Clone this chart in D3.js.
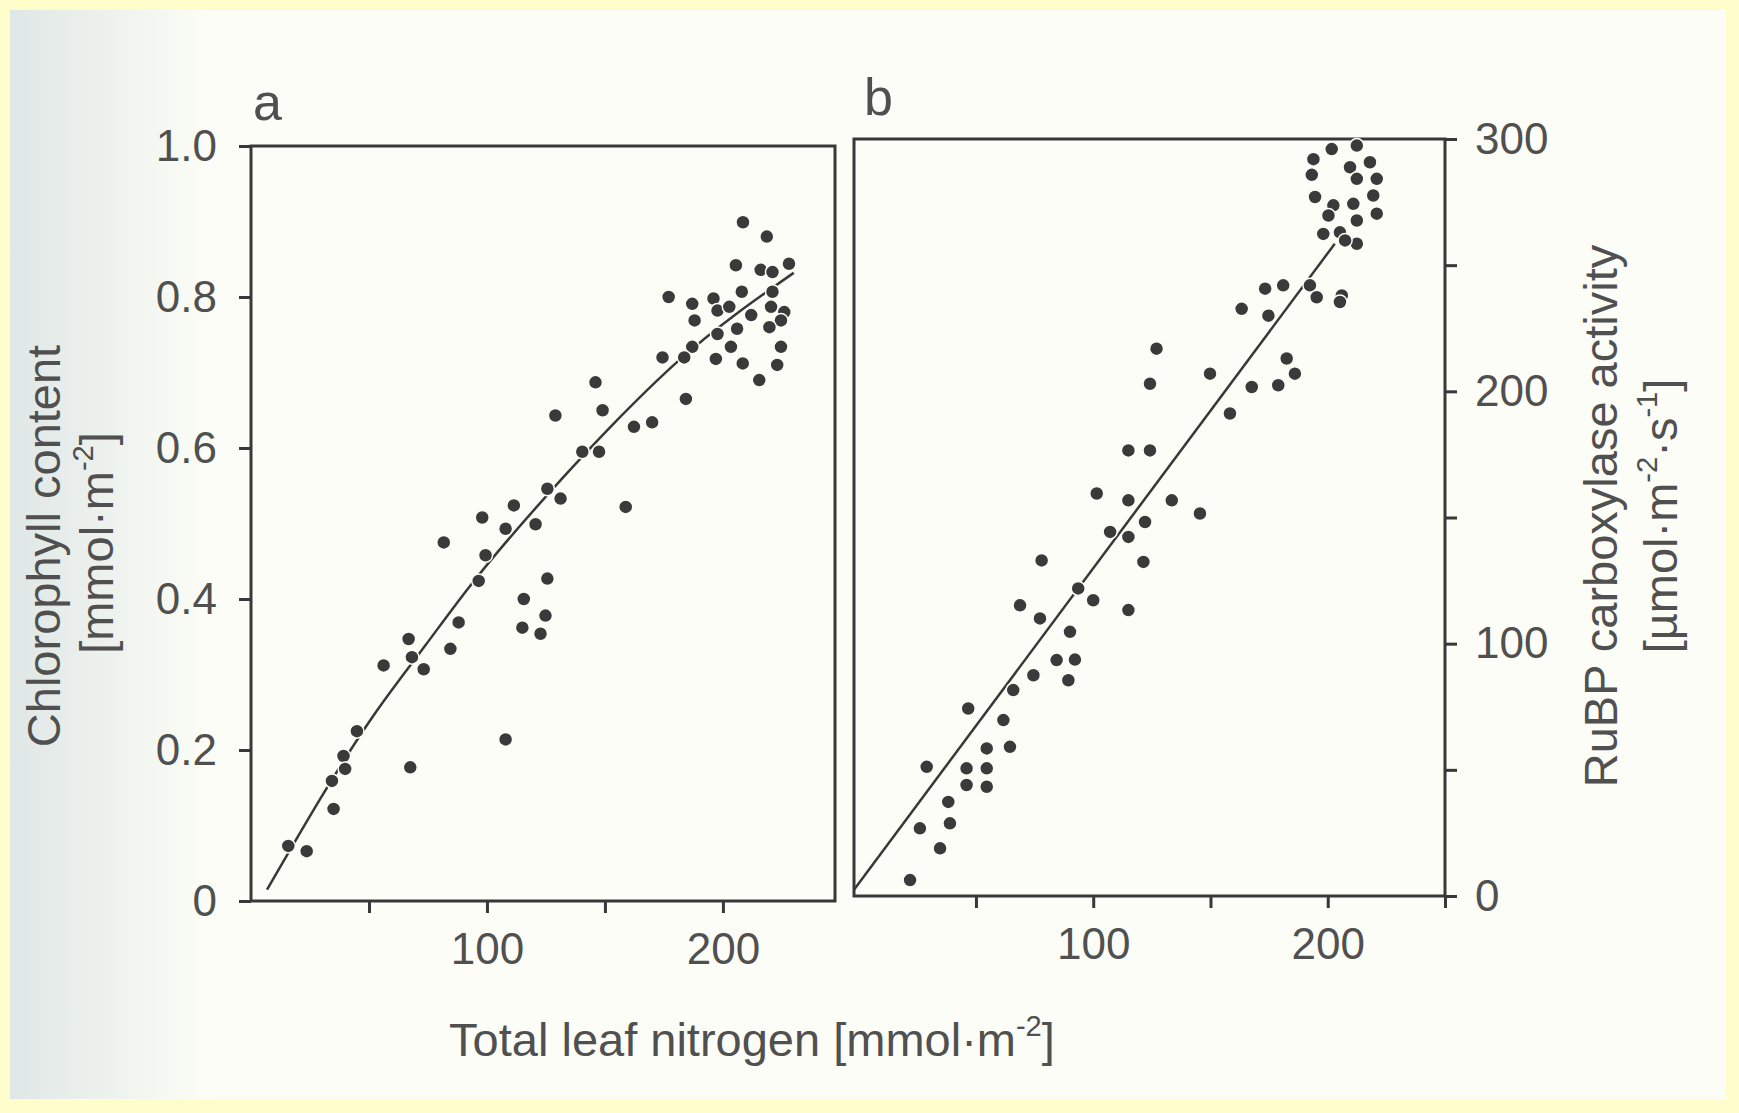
<!DOCTYPE html>
<html>
<head>
<meta charset="utf-8">
<script src="https://cdn.jsdelivr.net/npm/d3@7"></script>
<style>
body { margin: 0; background: #fefecb; }
svg { display: block; }
text { font-family: "Liberation Sans", Arial, sans-serif; fill: #505050; }
</style>
</head>
<body>
<svg id="chart" width="1739" height="1113"></svg>
<script>
// panel a: total leaf nitrogen vs chlorophyll content
var nitrogenA = [205.5,216,221,228,177,187,188,196,197.7,202.7,208,212,206,221,220.4,226,224.6,219.7,224.6,223,
                 208.4,215.4,203.4,197,197.7,187,183.6,174.4,184.3,146,149,129,162.3,170,140.4,147.5,158.8,125.6,131.2,111.4,
                 98,107.9,120.6,81.7,99.4,208.5,218.6,96.5,125.6,115.6,124.8,115,122.7,88,84.5,66.8,
                 68.2,73.2,56.2,44.9,39.2,39.9,34.3,35,15.8,23.6,67.5,107.9];
var chlorophyll = [0.842,0.836,0.833,0.844,0.800,0.791,0.769,0.798,0.782,0.787,0.807,0.776,0.758,0.807,0.787,0.780,0.769,0.760,0.734,0.710,
                   0.712,0.690,0.734,0.718,0.751,0.734,0.720,0.720,0.665,0.687,0.650,0.643,0.628,0.634,0.595,0.595,0.522,0.546,0.533,0.524,
                   0.508,0.493,0.499,0.475,0.458,0.899,0.880,0.424,0.427,0.400,0.378,0.362,0.354,0.369,0.334,0.347,
                   0.323,0.307,0.312,0.225,0.192,0.175,0.159,0.122,0.073,0.066,0.177,0.214];

// panel b: total leaf nitrogen vs RuBP carboxylase activity
var nitrogenB = [201.7,212.4,193.9,193.2,209.5,218,212.4,220.9,219.4,194.6,202.4,210.9,200.3,212.4,220.9,198.1,205.2,212.4,207.4,173.3,
                 181,192.4,195.3,206,205.2,163.3,174.7,127,124.2,149.8,182.5,186,167.6,178.9,158.3,115,124.2,101.5,115,133.5,
                 145.5,122.1,115,107.2,78,121.4,93.6,100,115,68.8,77.3,90.1,84.4,92.2,74.5,89.4,65.9,46.7,61.7,54.6,
                 64.5,29,46,54.6,46,54.6,38.2,38.9,26.1,34.7,21.9];
var rubpActivity = [296,297.4,292,285.8,288.8,290.8,284.2,284.2,277.6,277,273.7,274.3,269.7,267.7,270.4,262.4,263,258.5,259.8,240.7,
                    242,242,237.3,238,235.4,232.7,230,216.9,203,207,213,207,201.7,202.4,191.2,176.6,176.6,159.5,156.8,156.8,
                    151.6,148.2,142.3,144.3,133,132.4,121.9,117.2,113.3,115.2,110,104.7,93.5,93.7,87.5,85.5,81.6,74.3,69.7,58.5,
                    59.1,51.2,50.6,50.6,44,43.3,37.3,28.8,26.8,18.9,6.3];

// fitted curves
var fitAx = [6.8, 52, 74, 92, 132, 153, 181, 230];
var fitAy = [0.015, 0.246, 0.339, 0.414, 0.560, 0.630, 0.715, 0.832];
var fitBx = [-2, 203];
var fitBy = [2.5, 258.5];

var xTicksA = [50, 100, 150, 200];
var xTicksB = [50, 100, 150, 200, 250];
var xTickLabels = [100, 200];
var yTicksA = [0, 0.2, 0.4, 0.6, 0.8, 1.0];
var yTicksB = [0, 100, 200, 300];
var yMinorB = [50, 150, 250];

var svg = d3.select("#chart");
var ink = "#383838";
var paper = "#fcfdf6";

// paper background
var defs = svg.append("defs");
var grad = defs.append("linearGradient").attr("id", "leftShade");
grad.append("stop").attr("offset", "0").attr("stop-color", "#dfe7e6");
grad.append("stop").attr("offset", "1").attr("stop-color", paper);
svg.append("rect").attr("x", 10).attr("y", 10).attr("width", 1716).attr("height", 1089).style("fill", paper);
svg.append("rect").attr("x", 10).attr("y", 10).attr("width", 200).attr("height", 1089).style("fill", "url(#leftShade)");

var xA = d3.scaleLinear().domain([0, 247.5]).range([251, 835]);
var yA = d3.scaleLinear().domain([0, 1]).range([901, 146]);
var xB = d3.scaleLinear().domain([-2, 250]).range([854, 1445]);
var yB = d3.scaleLinear().domain([0, 300]).range([896, 139]);

function styleAxis(g) {
  g.select(".domain").remove();
  g.selectAll(".tick line").style("stroke", ink).style("stroke-width", 3);
  g.selectAll(".tick text").style("font-family", "'Liberation Sans', Arial, sans-serif")
    .style("font-size", "44px").style("fill", "#505050");
}

// panel a
svg.append("g")
    .attr("transform", "translate(" + xA.range()[0] + ",0)")
    .call(d3.axisLeft(yA).tickValues(yTicksA).tickSize(12).tickPadding(22)
      .tickFormat(function(d) { return d === 0 ? "0" : d.toFixed(1); }))
    .call(styleAxis);
svg.append("g")
    .attr("transform", "translate(0," + yA.range()[0] + ")")
    .call(d3.axisBottom(xA).tickValues(xTicksA).tickSize(12).tickPadding(20)
      .tickFormat(function(d) { return xTickLabels.indexOf(d) >= 0 ? d : ""; }))
    .call(styleAxis);
svg.append("rect")
    .attr("x", xA.range()[0]).attr("y", yA.range()[1])
    .attr("width", xA.range()[1] - xA.range()[0])
    .attr("height", yA.range()[0] - yA.range()[1])
    .style("fill", "none").style("stroke", ink).style("stroke-width", 3);

var lineA = d3.line()
    .x(function(i) { return xA(fitAx[i]); })
    .y(function(i) { return yA(fitAy[i]); })
    .curve(d3.curveMonotoneX);
svg.append("path")
    .attr("d", lineA(d3.range(fitAx.length)))
    .style("fill", "none").style("stroke", ink).style("stroke-width", 2.5);

svg.selectAll(".dotA")
    .data(d3.range(nitrogenA.length))
    .enter()
    .append("circle")
    .attr("class", "dotA")
    .attr("cx", function(i) { return xA(nitrogenA[i]); })
    .attr("cy", function(i) { return yA(chlorophyll[i]); })
    .attr("r", 7)
    .style("fill", "#3a3a3a")
    .style("stroke", paper).style("stroke-width", 1.5);

// panel b
svg.append("g")
    .attr("transform", "translate(" + xB.range()[1] + ",0)")
    .call(d3.axisRight(yB).tickValues(yTicksB).tickSize(12).tickPadding(18))
    .call(styleAxis);
svg.append("g")
    .attr("transform", "translate(" + xB.range()[1] + ",0)")
    .call(d3.axisRight(yB).tickValues(yMinorB).tickSize(12).tickFormat(""))
    .call(styleAxis);
svg.append("g")
    .attr("transform", "translate(0," + yB.range()[0] + ")")
    .call(d3.axisBottom(xB).tickValues(xTicksB).tickSize(12).tickPadding(20)
      .tickFormat(function(d) { return xTickLabels.indexOf(d) >= 0 ? d : ""; }))
    .call(styleAxis);
svg.append("rect")
    .attr("x", xB.range()[0]).attr("y", yB.range()[1])
    .attr("width", xB.range()[1] - xB.range()[0])
    .attr("height", yB.range()[0] - yB.range()[1])
    .style("fill", "none").style("stroke", ink).style("stroke-width", 3);

svg.append("line")
    .attr("x1", xB(fitBx[0])).attr("y1", yB(fitBy[0]))
    .attr("x2", xB(fitBx[1])).attr("y2", yB(fitBy[1]))
    .style("stroke", ink).style("stroke-width", 2.5);

svg.selectAll(".dotB")
    .data(d3.range(nitrogenB.length))
    .enter()
    .append("circle")
    .attr("class", "dotB")
    .attr("cx", function(i) { return xB(nitrogenB[i]); })
    .attr("cy", function(i) { return yB(rubpActivity[i]); })
    .attr("r", 7)
    .style("fill", "#3a3a3a")
    .style("stroke", paper).style("stroke-width", 1.5);

// panel letters
svg.append("text").attr("x", 253).attr("y", 120).text("a").style("font-size", "52px");
svg.append("text").attr("x", 864).attr("y", 115).text("b").style("font-size", "52px");

// label with superscript parts: [text, isSuperscript]
function label(x, y, rotate, parts, size) {
  var t = svg.append("text")
      .attr("transform", "translate(" + x + "," + y + ")" + (rotate ? " rotate(-90)" : ""))
      .style("text-anchor", "middle")
      .style("font-size", size + "px");
  var up = false;
  parts.forEach(function(p) {
    var ts = t.append("tspan").text(p[0]);
    if (p[1] && !up) { ts.attr("dy", -0.42 * size).style("font-size", (size * 0.62) + "px"); up = true; }
    else if (p[1]) { ts.style("font-size", (size * 0.62) + "px"); }
    else if (up) { ts.attr("dy", 0.42 * size); up = false; }
  });
  return t;
}

label(60, 546, true, [["Chlorophyll content"]], 47);
label(113, 543, true, [["[mmol·m"], ["-2", true], ["]"]], 47);
label(1617, 516, true, [["RuBP carboxylase activity"]], 47);
label(1677, 516, true, [["[µmol·m"], ["-2", true], ["·s", false], ["-1", true], ["]"]], 47);
label(752, 1056, false, [["Total leaf nitrogen [mmol·m"], ["-2", true], ["]"]], 47);
</script>
</body>
</html>
